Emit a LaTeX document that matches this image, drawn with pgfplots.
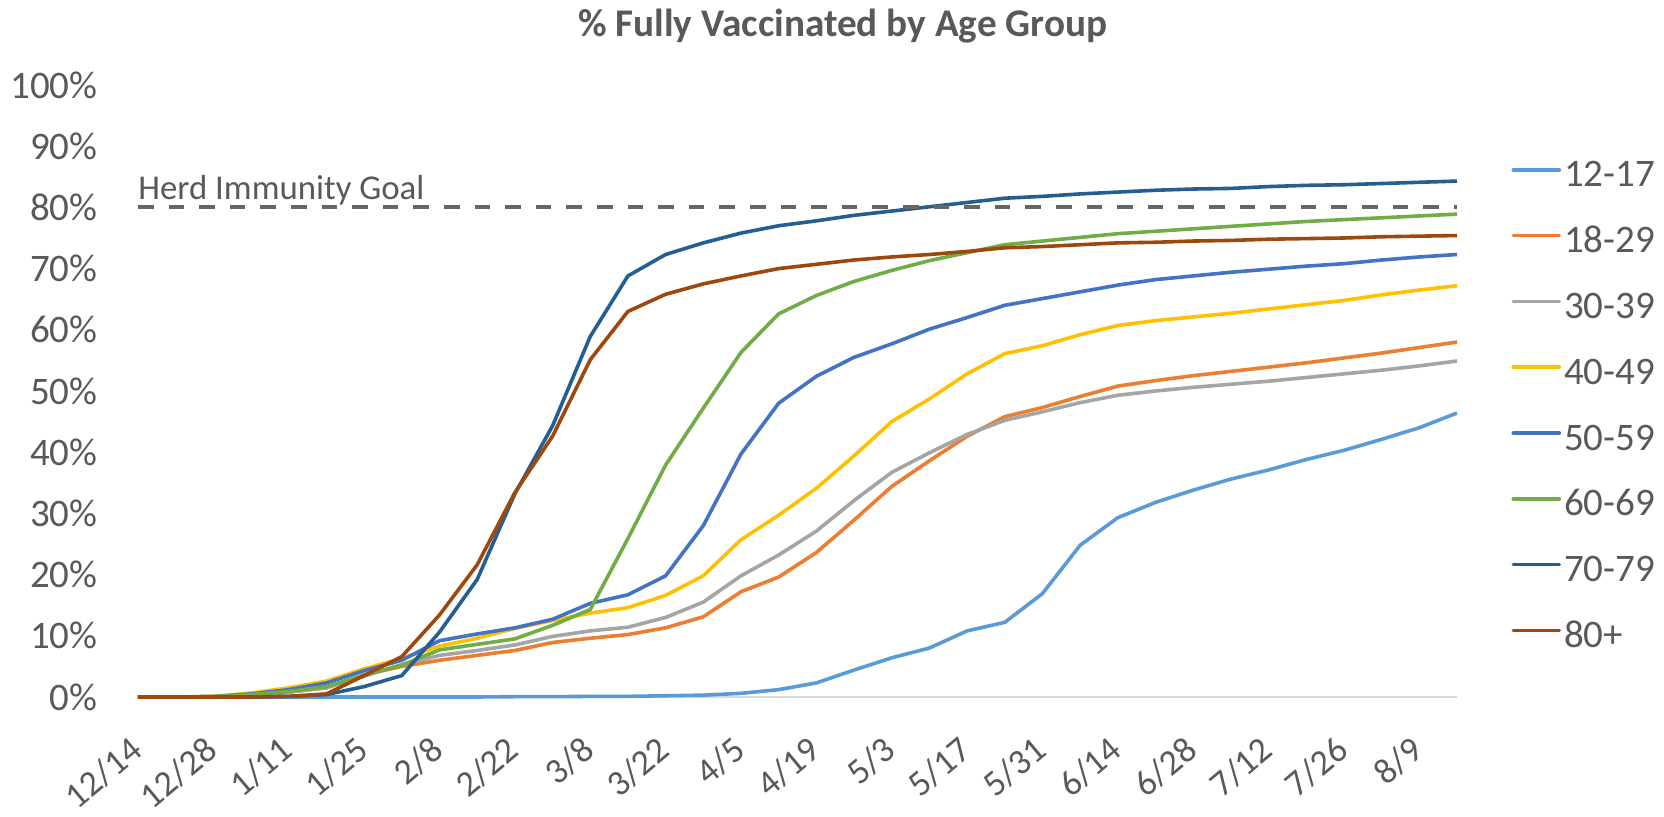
\documentclass[border=0pt]{standalone}
\usepackage{pgfplots}
\pgfplotsset{compat=1.18}
\usepackage{pgfplotstable}
\usepackage{fontspec}
\setmainfont{Carlito}
\definecolor{cA}{HTML}{5B9BD5}
\definecolor{cB}{HTML}{ED7D31}
\definecolor{cC}{HTML}{A5A5A5}
\definecolor{cD}{HTML}{FFC000}
\definecolor{cE}{HTML}{4472C4}
\definecolor{cF}{HTML}{70AD47}
\definecolor{cG}{HTML}{255E91}
\definecolor{cH}{HTML}{9E480E}
\definecolor{txt}{HTML}{595959}
\definecolor{dashc}{HTML}{666666}
\definecolor{axc}{HTML}{D9D9D9}

\pgfplotstableread{
i  a    b    c    d    e    f    g    h
0  0    0    0    0    0    0    0    0
1  0    0    0    0    0    0    0    0
2  0    0.05 0.05 0.1  0.05 0.05 0    0
3  0    0.3  0.3  0.65 0.5  0.4  0    0
4  0    0.8  0.8  1.5  1.2  0.9  0.1  0.1
5  0    1.5  1.5  2.6  2.3  1.7  0.4  0.5
6  0    3.6  3.4  4.6  4.3  3.6  1.7  3.5
7  0    5.0  5.3  6.3  6.0  5.2  3.5  6.6
8  0    6.0  6.8  8.3  9.2  7.7  10.6 13.4
9  0    6.8  7.6  9.6  10.3 8.6  19.2 21.6
10 0.05 7.6  8.5  11.2 11.3 9.5  33.2 33.4
11 0.05 8.9  9.9  12.5 12.7 11.7 44.3 42.6
12 0.1  9.6  10.8 13.7 15.3 14.3 58.9 55.1
13 0.1  10.2 11.4 14.6 16.7 25.9 68.8 63.0
14 0.2  11.3 13.0 16.6 19.8 37.9 72.3 65.8
15 0.3  13.1 15.5 19.8 28.0 47.2 74.2 67.5
16 0.6  17.2 19.8 25.7 39.7 56.3 75.8 68.8
17 1.2  19.6 23.2 29.7 48.0 62.6 77.0 70.0
18 2.3  23.6 27.1 34.1 52.4 65.6 77.8 70.7
19 4.4  28.9 32.1 39.4 55.5 67.9 78.7 71.4
20 6.4  34.4 36.7 45.0 57.7 69.7 79.4 71.9
21 8.0  38.6 39.9 48.7 60.1 71.3 80.1 72.3
22 10.8 42.6 42.9 52.8 62.0 72.6 80.8 72.8
23 12.2 45.8 45.2 56.1 64.0 73.9 81.5 73.4
24 16.9 47.3 46.6 57.4 65.1 74.5 81.8 73.6
25 24.8 49.1 48.1 59.2 66.2 75.1 82.2 73.9
26 29.3 50.8 49.3 60.7 67.3 75.7 82.5 74.2
27 31.8 51.7 50.0 61.5 68.2 76.1 82.8 74.3
28 33.8 52.5 50.6 62.1 68.8 76.5 83.0 74.5
29 35.6 53.2 51.1 62.7 69.4 76.9 83.1 74.6
30 37.1 53.9 51.6 63.4 69.9 77.3 83.4 74.8
31 38.8 54.6 52.2 64.1 70.4 77.7 83.6 74.9
32 40.3 55.4 52.8 64.8 70.8 78.0 83.7 75.0
33 42.1 56.2 53.4 65.7 71.4 78.3 83.9 75.2
34 44.0 57.1 54.1 66.5 71.9 78.6 84.1 75.3
35 46.4 58.0 54.9 67.2 72.3 78.9 84.3 75.4
}\data

\begin{document}
\begin{tikzpicture}
\useasboundingbox (0,0) rectangle (832pt,408.5pt);
\begin{axis}[
  at={(69pt,60pt)}, anchor=south west,
  scale only axis, width=659.5pt, height=306pt,
  xmin=0, xmax=35, ymin=0, ymax=100,
  clip=false,
  axis lines*=left,
  x axis line style={draw=axc, line width=1pt},
  y axis line style={draw=none},
  tick style={draw=none},
  ytick={0,10,...,100},
  yticklabel={\pgfmathprintnumber[assume math mode=true]{\tick}\%},
  yticklabel style={font=\fontsize{19.5}{20}\selectfont, text=txt, inner sep=0pt, anchor=east, xshift=-20pt},
  xtick={0,2,...,34},
  xticklabels={12/14,12/28,1/11,1/25,2/8,2/22,3/8,3/22,4/5,4/19,5/3,5/17,5/31,6/14,6/28,7/12,7/26,8/9},
  xticklabel style={font=\fontsize{18}{19}\selectfont, text=txt, inner sep=0pt, anchor=base east, xshift=3.2pt, yshift=-28.5pt, rotate=40},
  legend style={at={(axis description cs:1.041,0.88)}, anchor=north west, draw=none, fill=none,
    font=\fontsize{19.5}{20}\selectfont, text=txt, row sep=13.9pt, column sep=1.5pt, inner sep=0pt,
    nodes={inner sep=0pt, text height=14pt, text depth=5pt}},
  legend cell align=left,
  legend image code/.code={\draw[#1, line width=1.8pt, line cap=round] (0pt,4pt) -- (23pt,4pt);},
  every axis plot/.append style={line width=1.8pt, no markers},
]
\addplot[cA] table[x=i, y=a] {\data}; \addlegendentry{12-17}
\addplot[cB] table[x=i, y=b] {\data}; \addlegendentry{18-29}
\addplot[cC] table[x=i, y=c] {\data}; \addlegendentry{30-39}
\addplot[cD] table[x=i, y=d] {\data}; \addlegendentry{40-49}
\addplot[cE] table[x=i, y=e] {\data}; \addlegendentry{50-59}
\addplot[cF] table[x=i, y=f] {\data}; \addlegendentry{60-69}
\addplot[cG] table[x=i, y=g] {\data}; \addlegendentry{70-79}
\addplot[cH] table[x=i, y=h] {\data}; \addlegendentry{80+}
\addplot[dashc, line width=2pt, dash pattern=on 7.8pt off 7.5pt, forget plot] coordinates {(0,80) (35,80)};
\node[anchor=base west, inner sep=0pt, font=\fontsize{17.4}{18}\selectfont, text=txt] at (axis cs:0,80) [yshift=4pt] {Herd Immunity Goal};
\end{axis}
\node[font=\bfseries\fontsize{19.6}{20}\selectfont, text=txt] at (421.3pt,395.7pt) {\% Fully Vaccinated by Age Group};
\end{tikzpicture}
\end{document}
